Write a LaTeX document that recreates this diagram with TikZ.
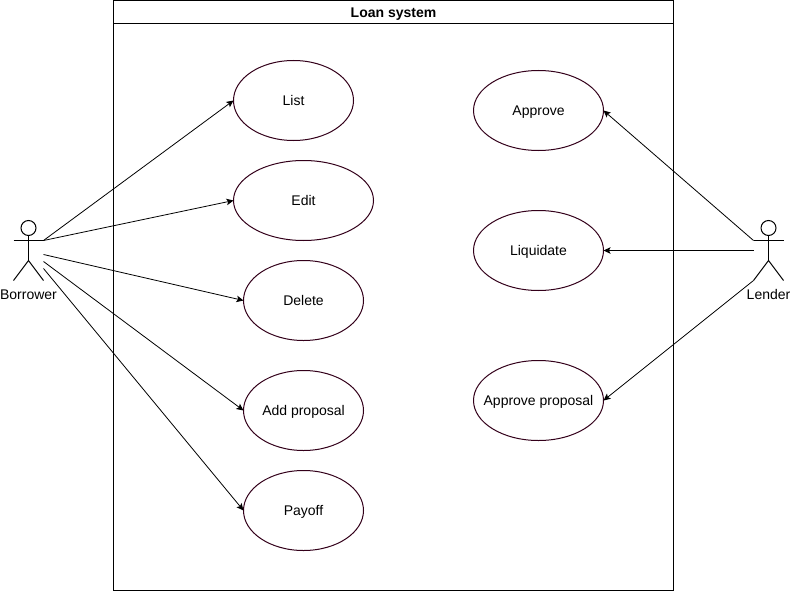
\documentclass[tikz,border=0pt]{standalone}
\usepackage{fontspec}
\setmainfont{Liberation Sans}
\usetikzlibrary{arrows.meta,positioning,shapes.geometric,calc}
\definecolor{useCaseLine}{HTML}{33001A}

\begin{document}
\begin{tikzpicture}[
        x=1pt,
        y=-1pt,
        line width=1pt,
        useCase/.style={
            ellipse,
            draw=useCaseLine,
            fill=white,
            inner sep=0pt,
            outer sep=0pt,
            minimum height=80pt,
            text height=10pt,
            text depth=0pt,
            font=\fontsize{14}{16}\selectfont
        },
        actorBox/.style={
            inner sep=0pt,
            outer sep=0pt,
            minimum width=30pt,
            minimum height=60pt
        },
        actorLabel/.style={
            inner sep=0pt,
            text height=10pt,
            text depth=3pt,
            font=\fontsize{14}{16}\selectfont
        },
        assoc/.style={
            -{Stealth[length=7pt,width=6.5pt,inset=1.5pt]},
            line width=0.8pt,
            draw=black
        }
    ]

        \useasboundingbox (0,0) rectangle (791,591);

        % System boundary
        \node[
            draw,
            inner sep=0pt,
            outer sep=0pt,
            minimum width=560pt,
            minimum height=590pt
        ] (system) at (393.5,295.5) {};

        \node[
            draw,
            inner sep=0pt,
            outer sep=0pt,
            minimum width=560pt,
            minimum height=23pt,
            text height=12pt,
            text depth=0pt,
            font=\fontsize{14}{16}\selectfont\bfseries,
            below=0pt of system.north
        ] (title) {Loan system};

        % Borrower use cases
        \node[useCase, minimum width=120pt] (list) at (293.5,100.5) {List};
        \node[useCase, minimum width=140pt] (edit) at (303.5,200.5) {Edit};
        \node[useCase, minimum width=120pt] (delete) at (303.5,300.5) {Delete};
        \node[useCase, minimum width=120pt] (addProposal) at (303.5,410.5) {Add proposal};
        \node[useCase, minimum width=120pt] (payoff) at (303.5,510.5) {Payoff};

        % Lender use cases
        \node[useCase, minimum width=130pt] (approve) at (538.5,110.5) {Approve};
        \node[useCase, minimum width=130pt] (liquidate) at (538.5,250.5) {Liquidate};
        \node[useCase, minimum width=130pt] (approveProposal) at (538.5,400.5) {\makebox[0pt]{Approve proposal}};

        % Actors
        \node[actorBox] (borrower) at (28.5,250.5) {};
        \node[actorBox] (lender) at (768.5,250.5) {};

        \foreach \actorName in {borrower,lender}
        {
            \draw ($(\actorName.north)+(0,7.5)$) circle[radius=7.5pt];
            \draw ($(\actorName.north)+(0,15)$) -- ($(\actorName.north)+(0,40)$);
            \draw ($(\actorName.north west)+(0,20)$) -- ($(\actorName.north east)+(0,20)$);
            \draw (\actorName.south west) -- ($(\actorName.north)+(0,40)$) -- (\actorName.south east);
        }

        \node[actorLabel, below=8pt of borrower] (borrowerLabel) {Borrower};
        \node[actorLabel, below=8pt of lender] (lenderLabel) {Lender};

        % Borrower associations
        \coordinate (borrowerArm) at ($(borrower.north east)+(0,20)$);

        \draw[assoc] (borrowerArm) -- (list.west);
        \draw[assoc] (borrowerArm) -- (edit.west);
        \draw[assoc] ($(borrower.east)+(0,4)$) -- (delete.west);
        \draw[assoc] ($(borrower.east)+(0,11)$) -- (addProposal.west);
        \draw[assoc] ($(borrower.east)+(0,18)$) -- (payoff.west);

        % Lender associations
        \draw[assoc] ($(lender.north west)+(0,20)$) -- (approve.east);
        \draw[assoc] (lender.west) -- (liquidate.east);
        \draw[assoc] (lender.south west) -- (approveProposal.east);

    \end{tikzpicture}
\end{document}
